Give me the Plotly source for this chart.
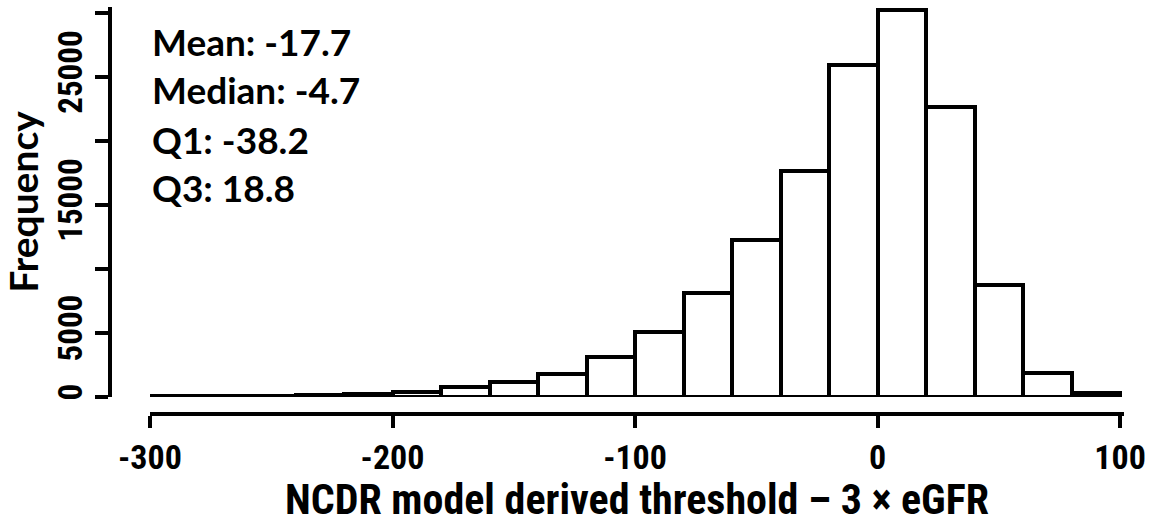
import plotly.graph_objects as go

# Histogram data (bin width 20)
bin_starts = [-300, -280, -260, -240, -220, -200, -180, -160, -140, -120,
              -100, -80, -60, -40, -20, 0, 20, 40, 60, 80]
counts = [40, 60, 90, 150, 230, 400, 780, 1170, 1800, 3120,
          5080, 8130, 12270, 17660, 25900, 30200, 22660, 8750, 1870, 300]
bin_width = 20

x_ticks = [-300, -200, -100, 0, 100]
y_ticks = [0, 5000, 10000, 15000, 20000, 25000, 30000]
y_tick_text = ["0", "5000", "", "15000", "", "25000", ""]

stats_lines = ["Mean: -17.7", "Median: -4.7", "Q1: -38.2", "Q3: 18.8"]

centers = [s + bin_width / 2 for s in bin_starts]

W, H = 1170, 524
ML, MR, MT, MB = 110, 46, 7, 110
plot_w = W - ML - MR
plot_h = H - MT - MB

narrow = "Liberation Sans Narrow, Arial Narrow, Roboto Condensed, Roboto, Liberation Sans, Arial"
calib = "Lato, Carlito, Calibri, Open Sans, sans-serif"

fig = go.Figure()
fig.add_trace(go.Bar(
    x=centers, y=counts, width=bin_width,
    marker=dict(color="white", line=dict(color="black", width=4)),
    showlegend=False, hoverinfo="x+y",
))


def px_x(p):
    return (p - ML) / plot_w


def px_y(p):
    return (H - MB - p) / plot_h


annotations = []
line_centers = [41, 90, 139, 188]
for txt, cy in zip(stats_lines, line_centers):
    annotations.append(dict(
        text=txt, xref="paper", yref="paper", x=px_x(150), y=px_y(cy),
        xanchor="left", yanchor="middle", showarrow=False,
        font=dict(family=calib, size=37, color="black", weight="bold"),
    ))

fig.update_layout(
    width=W, height=H,
    margin=dict(l=ML, r=MR, t=MT, b=MB, pad=0, autoexpand=False),
    paper_bgcolor="white", plot_bgcolor="white",
    bargap=0,
    annotations=annotations,
    xaxis=dict(
        domain=[40 / plot_w, 1], range=[-300, 101.6],
        anchor="free", position=0,
        showline=True, linecolor="black", linewidth=4,
        ticks="outside", ticklen=12, tickwidth=4, tickcolor="black",
        tickvals=x_ticks, ticktext=[str(v) for v in x_ticks],
        tickfont=dict(family=narrow, size=34, color="black", weight="bold"),
        showgrid=False, zeroline=False,
        title=dict(text="NCDR model derived threshold \u2013 3 \u00d7 eGFR",
                   font=dict(family=narrow, size=42, color="black", weight="bold"),
                   standoff=0),
    ),
    yaxis=dict(
        domain=[17 / plot_h, 1], range=[0, 30470],
        anchor="free", position=0,
        showline=True, linecolor="black", linewidth=4,
        ticks="outside", ticklen=13, tickwidth=4, tickcolor="black",
        tickvals=y_ticks, ticktext=y_tick_text, tickangle=-90,
        tickfont=dict(family=narrow, size=33, color="black", weight="bold"),
        showgrid=False, zeroline=False,
        title=dict(text="Frequency",
                   font=dict(family=calib, size=39, color="black", weight="bold"),
                   standoff=2),
    ),
)

fig.write_html("out.html",
               config={"displayModeBar": False},
               post_script="document.body.style.margin='0';document.body.style.padding='0';")
